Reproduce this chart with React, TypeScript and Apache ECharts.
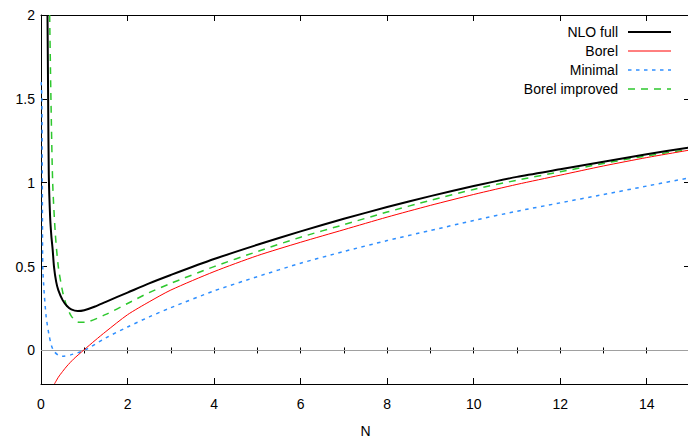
import { useEffect, useRef } from 'react';
import * as echarts from 'echarts';

const nloX = [0.15, 0.165, 0.18, 0.21, 0.24, 0.27, 0.3, 0.35, 0.4, 0.5, 0.6, 0.7, 0.85, 1.0, 1.25, 1.5, 2, 2.5, 3, 4, 5, 6, 7, 8, 9, 10, 11, 12, 13, 14, 15];
const nloY = [2.0, 1.5, 1.05, 0.8, 0.68, 0.6, 0.5, 0.41, 0.36, 0.3, 0.265, 0.245, 0.235, 0.24, 0.262, 0.29, 0.345, 0.4, 0.45, 0.545, 0.63, 0.71, 0.785, 0.855, 0.92, 0.98, 1.035, 1.08, 1.125, 1.17, 1.21];

const borelX = [0.31, 0.4, 0.5, 0.6, 0.75, 1.0, 1.25, 1.5, 2, 2.5, 3, 4, 5, 6, 7, 8, 9, 10, 11, 12, 13, 14, 15];
const borelY = [-0.2, -0.16, -0.125, -0.093, -0.052, 0.005, 0.06, 0.113, 0.213, 0.29, 0.36, 0.47, 0.565, 0.645, 0.72, 0.795, 0.865, 0.93, 0.99, 1.045, 1.1, 1.15, 1.195];

const minimalX = [0.005, 0.02, 0.03, 0.04, 0.06, 0.08, 0.12, 0.18, 0.24, 0.3, 0.4, 0.5, 0.7, 1.0, 1.5, 2, 2.5, 3, 4, 5, 6, 7, 8, 9, 10, 11, 12, 13, 14, 15];
const minimalY = [1.6, 1.5, 1.0, 0.5, 0.4, 0.32, 0.2, 0.1, 0.03, -0.005, -0.028, -0.034, -0.025, 0.0, 0.075, 0.14, 0.2, 0.255, 0.355, 0.44, 0.52, 0.59, 0.655, 0.715, 0.775, 0.83, 0.88, 0.93, 0.98, 1.03];

const improvedX = [0.2, 0.23, 0.27, 0.33, 0.4, 0.5, 0.6, 0.7, 0.85, 1.0, 1.5, 2, 2.5, 3, 4, 5, 6, 7, 8, 9, 10, 11, 12, 13, 14, 15];
const improvedY = [2.0, 1.5, 1.0, 0.7, 0.5, 0.35, 0.26, 0.205, 0.17, 0.168, 0.215, 0.28, 0.345, 0.4, 0.5, 0.59, 0.675, 0.75, 0.825, 0.895, 0.96, 1.015, 1.065, 1.115, 1.16, 1.2];

const seriesNames = ['NLO full', 'Borel', 'Minimal', 'Borel improved'];
const xAxisName = 'N';

const FONT = '"Liberation Sans", Arial, sans-serif';

const zip = (xs: number[], ys: number[]) => xs.map((x, i) => [x, ys[i]]);

export default function App() {
  const ref = useRef<HTMLDivElement>(null);
  useEffect(() => {
    if (!ref.current) return;
    const chart = echarts.init(ref.current, null, { renderer: 'svg' });
    const colors = ['#000000', '#ff0000', '#2f8fff', '#2ec82e'];
    const widths = [2, 1, 1.5, 1.5];
    const dashes: any[] = ['solid', 'solid', [3.5, 4.5], [7, 6]];
    const datas = [zip(nloX, nloY), zip(borelX, borelY), zip(minimalX, minimalY), zip(improvedX, improvedY)];

    const baseX = {
      type: 'value', min: 0, max: 15, gridIndex: 0,
      axisLine: { show: true, onZero: false, lineStyle: { color: '#000', width: 1 } },
      splitLine: { show: false },
    };
    const baseY = {
      type: 'value', min: -0.2, max: 2, splitNumber: 5, gridIndex: 0,
      axisLine: { show: true, onZero: false, lineStyle: { color: '#000', width: 1 } },
      splitLine: { show: false },
    };
    const legendRows = [32, 51, 70, 89];
    const graphics: any[] = [];
    seriesNames.forEach((n, i) => {
      graphics.push({
        type: 'text', x: 618, y: legendRows[i],
        style: { text: n, fill: '#000', font: `14px ${FONT}`, align: 'right', verticalAlign: 'middle' },
      });
      graphics.push({
        type: 'line', shape: { x1: 628, y1: legendRows[i], x2: 671, y2: legendRows[i] },
        style: { stroke: colors[i], lineWidth: widths[i], lineDash: dashes[i] === 'solid' ? null : dashes[i] },
      });
    });

    chart.setOption({
      animation: false,
      grid: { left: 41, top: 15, width: 649, height: 369, containLabel: false, outerBoundsMode: 'none' },
      xAxis: [
        {
          ...baseX, position: 'bottom', interval: 2,
          name: xAxisName, nameLocation: 'middle', nameGap: 40,
          nameTextStyle: { color: '#000', fontSize: 14, fontFamily: FONT },
          axisTick: { show: true, inside: true, length: 6, lineStyle: { color: '#000' } },
          axisLabel: { show: true, color: '#000', fontSize: 14, fontFamily: FONT, margin: 13, showMaxLabel: false },
        },
        {
          ...baseX, position: 'bottom', interval: 1,
          axisLine: { show: false },
          axisTick: { show: true, inside: true, length: 3, lineStyle: { color: '#000' } },
          axisLabel: { show: false },
        },
        {
          ...baseX, position: 'top', interval: 2,
          axisTick: { show: true, inside: true, length: 6, lineStyle: { color: '#000' } },
          axisLabel: { show: false },
        },
        {
          ...baseX, position: 'top', interval: 1,
          axisLine: { show: false },
          axisTick: { show: true, inside: true, length: 3, lineStyle: { color: '#000' } },
          axisLabel: { show: false },
        },
      ],
      yAxis: [
        {
          ...baseY, position: 'left',
          axisTick: { show: true, inside: true, length: 6, lineStyle: { color: '#000' } },
          axisLabel: {
            show: true, color: '#000', fontSize: 14, fontFamily: FONT, margin: 6, showMinLabel: false,
            formatter: (v: number) => (v < 0 ? '' : String(v)),
          },
        },
        {
          ...baseY, position: 'right',
          axisTick: { show: true, inside: true, length: 6, lineStyle: { color: '#000' } },
          axisLabel: { show: false },
        },
      ],
      graphic: graphics,
      series: [
        {
          type: 'line', name: 'zero', data: [], xAxisIndex: 0, yAxisIndex: 0, silent: true,
          markLine: {
            silent: true, symbol: 'none', label: { show: false },
            lineStyle: { color: '#a0a0a0', width: 1, type: 'solid' },
            data: [{ yAxis: 0 }],
          },
        },
        ...seriesNames.map((n, i) => ({
          type: 'line', name: n, data: datas[i], xAxisIndex: 0, yAxisIndex: 0,
          showSymbol: false, symbol: 'none', smooth: 0.25,
          clip: true, z: 3 + (i === 0 ? 3 : i === 1 ? 2 : i === 3 ? 1 : 0),
          lineStyle: { color: colors[i], width: widths[i], type: dashes[i] },
        })),
      ],
    });
    return () => chart.dispose();
  }, []);
  return <div ref={ref} style={{ position: 'fixed', left: 0, top: 0, width: 688, height: 439, background: '#fff' }} />;
}
